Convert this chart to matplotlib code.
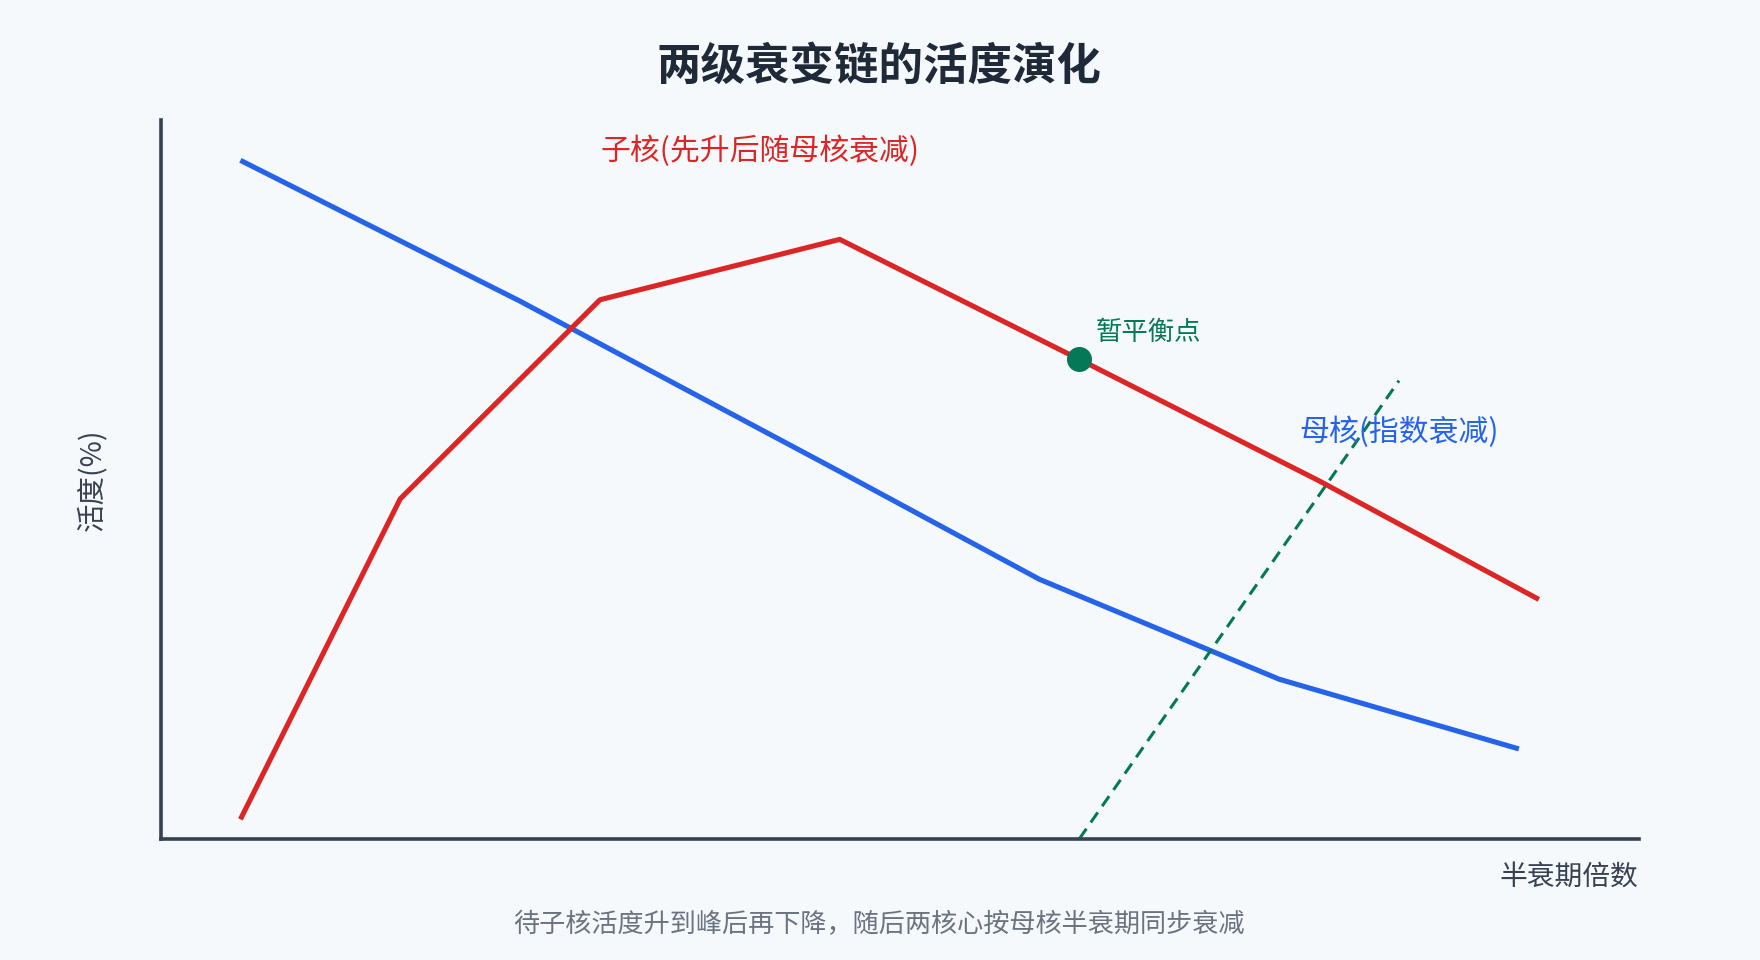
import numpy as np
import matplotlib
matplotlib.use("Agg")
import matplotlib.pyplot as plt

plt.rcParams['font.family'] = ['Noto Sans CJK SC', 'DejaVu Sans']

# half-life multiples (relative units) and activity (%)
parent_x = [2, 9, 17, 22, 28, 34]
parent_y = [94.4, 74.8, 51.1, 36.1, 22.2, 12.5]
daughter_x = [2, 6, 11, 17, 23, 29, 34.5]
daughter_y = [2.7, 47.3, 75.0, 83.4, 66.7, 49.8, 33.3]
eq_x = 23
eq_y = 66.7
guide_x = [23, 31]
guide_y = [0, 63.75]

title = "两级衰变链的活度演化"
parent_label = "母核(指数衰减)"
daughter_label = "子核(先升后随母核衰减)"
eq_label = "暂平衡点"
xlabel = "半衰期倍数"
ylabel = "活度(%)"
caption = "待子核活度升到峰后再下降，随后两核心按母核半衰期同步衰减"

bg = "#f5f9fc"
blue = "#2563eb"
red = "#dc2626"
green = "#047857"
axis_c = "#374151"

fig = plt.figure(figsize=(17.6, 9.6), dpi=100, facecolor=bg)
ax = fig.add_axes([0.0912, 0.1263, 0.8399, 0.7486])
ax.set_facecolor(bg)

ax.plot(parent_x, parent_y, color=blue, lw=3.7, solid_capstyle="butt")
ax.plot(daughter_x, daughter_y, color=red, lw=3.7, solid_capstyle="butt")
ax.plot(guide_x, guide_y, color=green, lw=2.2, linestyle=(0, (4, 2.5)))
ax.plot([eq_x], [eq_y], "o", color=green, markersize=17, zorder=5)

ax.text(15.0, 95.6, daughter_label, color=red, fontsize=21.5, ha="center", va="center")
ax.text(31.0, 56.6, parent_label, color=blue, fontsize=21.5, ha="center", va="center")
ax.text(23.4, 70.5, eq_label, color=green, fontsize=19, ha="left", va="center")

ax.set_xlim(0, 37)
ax.set_ylim(0, 100)
ax.set_xticks([])
ax.set_yticks([])
for s in ["top", "right"]:
    ax.spines[s].set_visible(False)
for s in ["left", "bottom"]:
    ax.spines[s].set_color(axis_c)
    ax.spines[s].set_linewidth(2.6)

fig.text(0.4994, 0.930, title, fontsize=32, fontweight="bold", color="#1f2937",
         ha="center", va="center")
fig.text(0.931, 0.087, xlabel, fontsize=20, color=axis_c, ha="right", va="center")
fig.text(0.0523, 0.5, ylabel, fontsize=20.5, color=axis_c, ha="center", va="center",
         rotation=90)
fig.text(0.4994, 0.0366, caption, fontsize=18.8, color="#6b7280", ha="center", va="center")

fig.savefig("out.png", dpi=100, facecolor=bg)
